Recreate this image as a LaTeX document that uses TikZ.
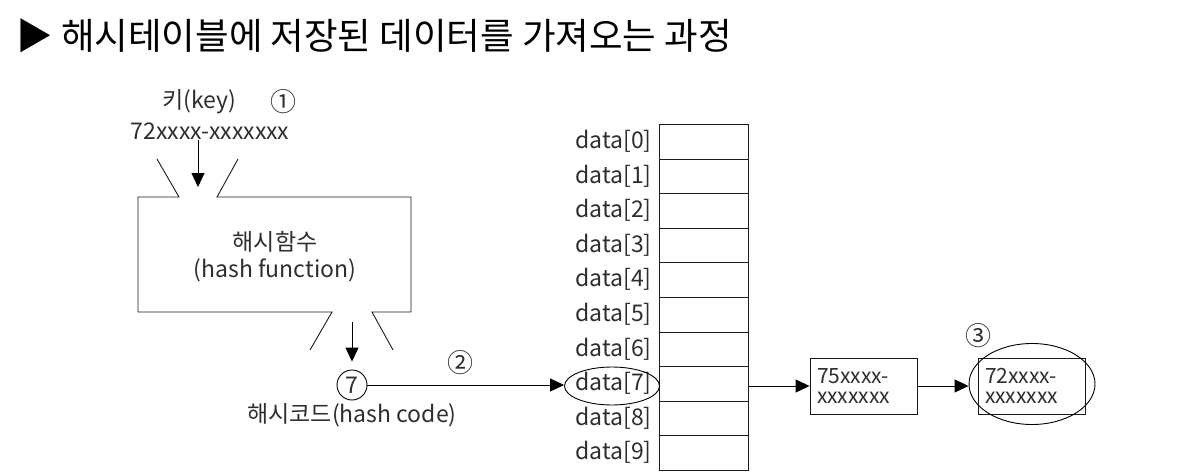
\documentclass[tikz,border=0pt]{standalone}
\usepackage{fontspec}
\setmainfont{Noto Sans CJK KR}
\usetikzlibrary{arrows.meta,shapes.geometric}
\definecolor{txtgray}{HTML}{2E2E2E}
\definecolor{linegray}{HTML}{1A1A1A}
\begin{document}
\begin{tikzpicture}[x=1pt,y=-1pt,line width=0.9pt,
  lbl/.style={font=\fontsize{23}{26}\selectfont, text=txtgray, inner sep=0pt},
  numlbl/.style={font=\fontsize{26}{28}\selectfont, text=txtgray, inner sep=0pt},
  arr/.style={draw=black,-{Triangle[length=14pt,width=13pt]}, line width=0.9pt},
  cell/.style={draw=linegray, minimum width=89pt, minimum height=34.6pt, anchor=north west, inner sep=0pt},
  funnel/.style={draw=linegray, line width=0.9pt},
  databox/.style={draw=linegray, rectangle, text width=93pt, minimum height=56pt, inner xsep=7pt, inner ysep=0pt, align=left,
    font=\fontsize{21}{19.5}\selectfont, text=txtgray}]
\fill[white] (0,0) rectangle (1190,476);
\useasboundingbox (0,0) rectangle (1190,476);
% title
\node[anchor=west, inner sep=0pt, font=\fontsize{36.5}{42}\selectfont] (title) at (16,36) {▶ 해시테이블에 저장된 데이터를 가져오는 과정};
% key
\node[lbl] (key1) at (199,102) {키(key)};
\node[numlbl] (n1) at (283,102) {①};
\node[lbl] (key2) at (210,131) {72xxxx-xxxxxxx};
\coordinate (kin) at (198,187);
\draw[arr] (key2.south -| kin) -- (kin);
% hash function funnel
\draw[funnel] (157,159) -- (179,197) -- (138,197) -- (138,312) -- (332,312) -- (310,350);
\draw[funnel] (238,159) -- (217,197) -- (411,197) -- (411,312) -- (372,312) -- (393,350);
\node[lbl] (hf1) at (275,242) {해시함수};
\node[lbl] (hf2) at (275,270) {(hash function)};
\coordinate (hout) at (352,322);
% hash code
\node[lbl, draw=black, circle, minimum size=30pt] (c7) at (352,385) {7};
\draw[arr, shorten >=8pt] (hout) -- (c7.north);
\node[lbl] (hc) at (352,415) {해시코드(hash code)};
\node[numlbl] (n2) at (460,363) {②};
% table
\foreach \i in {0,...,9}{
  \node[cell] (r\i) at (659,{124+34.6*\i}) {};
  \node[lbl, anchor=east] (d\i) at (652,{124+34.6*(\i+0.5)}) {data[\i]};
}
\node[draw=black, ellipse, minimum width=95pt, minimum height=38pt, inner sep=0pt] (e7) at (612,386) {};
\draw[arr] (c7.east) -- (c7.east -| e7.west);
% chain
\node[databox] (b1) at (863.5,386) {75xxxx-\\xxxxxxx};
\node[databox] (b2) at (1031.5,386) {72xxxx-\\xxxxxxx};
\node[draw=black, ellipse, minimum width=126pt, minimum height=81pt, inner sep=0pt] (e3) at (1032,384) {};
\node[numlbl] (n3) at (978,336) {③};
\draw[arr] (r7.east |- b1.west) -- (b1.west);
\draw[arr] (b1.east) -- (b1.east -| e3.west);
\end{tikzpicture}
\end{document}
